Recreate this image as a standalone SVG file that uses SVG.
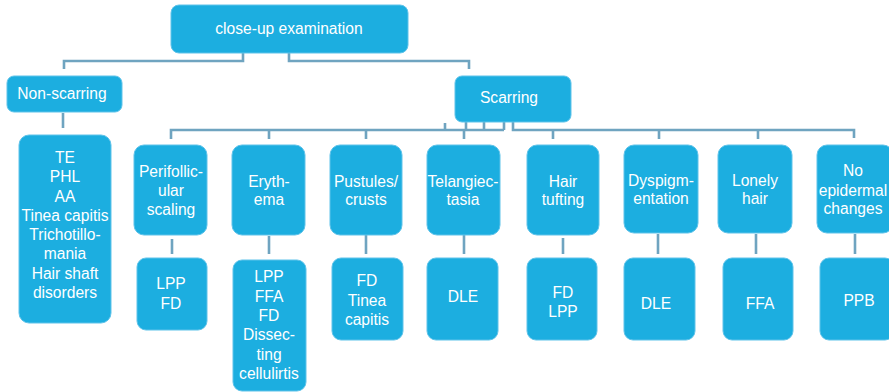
<svg xmlns="http://www.w3.org/2000/svg" width="889" height="392" viewBox="0 0 889 392">
<style>
.box{fill:#1caee0;stroke:#5fc3ea;stroke-width:1}
.t{font-family:"Liberation Sans",Arial,sans-serif;font-size:15.6px;fill:#ffffff;text-anchor:middle}
.c{fill:none;stroke:#6fa4c0;stroke-width:2.6}
</style>
<rect width="889" height="392" fill="#ffffff"/>
<g id="connectors">
<path class="c" d="M243,53 V61 H64 V69 M289,53 V61 H469 V69"/>
<path class="c" d="M63,113 V128"/>
<path class="c" d="M171,139 V130 H504 M269,130 V139 M366,130 V139 M464,130 V139 M445,123 V130 M466,122 V130 M484,122 V130 M504,122 V130"/>
<path class="c" d="M513,122 V130 H854 V138 M553,130 V139 M659,130 V139 M758,130 V139"/>
<path class="c" d="M172,239 V254 M269,236 V254 M366,235 V254 M464,234 V254 M563,238 V254 M658,234 V254 M756,234 V254 M855,234 V254"/>
</g>
<g id="n-root"><rect class="box" x="171" y="5" width="237" height="48" rx="8"/><text class="t" x="289" y="34">close-up examination</text></g>
<g id="n-nonscarring"><rect class="box" x="7" y="76" width="115" height="36" rx="7"/><text class="t" x="62" y="99">Non-scarring</text></g>
<g id="n-scarring"><rect class="box" x="455" y="76" width="116" height="46" rx="7"/><text class="t" x="509" y="103">Scarring</text></g>
<g id="n-ns-list"><rect class="box" x="19" y="135" width="92" height="188" rx="10"/>
<text class="t"><tspan x="65" y="162.5">TE</tspan><tspan x="65" y="182">PHL</tspan><tspan x="65" y="201.5">AA</tspan><tspan x="65" y="221">Tinea capitis</tspan><tspan x="65" y="240">Trichotillo-</tspan><tspan x="65" y="259">mania</tspan><tspan x="65" y="278.5">Hair shaft</tspan><tspan x="65" y="297.5">disorders</tspan></text></g>
<g id="n-perifollicular"><rect class="box" x="134" y="145" width="73" height="90" rx="10"/>
<text class="t"><tspan x="171" y="176.5">Perifollic-</tspan><tspan x="171" y="195.5">ular</tspan><tspan x="171" y="214.5">scaling</tspan></text></g>
<g id="n-erythema"><rect class="box" x="232" y="145" width="73" height="90" rx="10"/>
<text class="t"><tspan x="269" y="186.5">Eryth-</tspan><tspan x="269" y="205">ema</tspan></text></g>
<g id="n-pustules"><rect class="box" x="330" y="145" width="72" height="90" rx="10"/>
<text class="t"><tspan x="366" y="186.5">Pustules/</tspan><tspan x="366" y="205">crusts</tspan></text></g>
<g id="n-telangiectasia"><rect class="box" x="427" y="145" width="73" height="90" rx="10"/>
<text class="t"><tspan x="463" y="186.5">Telangiec-</tspan><tspan x="463" y="205">tasia</tspan></text></g>
<g id="n-hairtufting"><rect class="box" x="527" y="145" width="72" height="90" rx="10"/>
<text class="t"><tspan x="563" y="186.5">Hair</tspan><tspan x="563" y="205">tufting</tspan></text></g>
<g id="n-dyspigmentation"><rect class="box" x="624" y="145" width="74" height="88" rx="10"/>
<text class="t"><tspan x="661" y="185.5">Dyspigm-</tspan><tspan x="661" y="204">entation</tspan></text></g>
<g id="n-lonelyhair"><rect class="box" x="718" y="145" width="74" height="88" rx="10"/>
<text class="t"><tspan x="755" y="185.5">Lonely</tspan><tspan x="755" y="204">hair</tspan></text></g>
<g id="n-noepidermal"><rect class="box" x="817" y="145" width="76" height="88" rx="10"/>
<text class="t"><tspan x="853" y="175.5">No</tspan><tspan x="853" y="195.5">epidermal</tspan><tspan x="853" y="214">changes</tspan></text></g>
<g id="n-peri-dx"><rect class="box" x="137" y="258" width="70" height="72" rx="9"/>
<text class="t"><tspan x="171" y="289">LPP</tspan><tspan x="171" y="308.5">FD</tspan></text></g>
<g id="n-ery-dx"><rect class="box" x="233" y="260" width="73" height="131" rx="9"/>
<text class="t"><tspan x="269" y="282">LPP</tspan><tspan x="269" y="302">FFA</tspan><tspan x="269" y="321">FD</tspan><tspan x="269" y="340">Dissec-</tspan><tspan x="269" y="360">ting</tspan><tspan x="269" y="379">cellulirtis</tspan></text></g>
<g id="n-pus-dx"><rect class="box" x="332" y="258" width="71" height="82" rx="9"/>
<text class="t"><tspan x="367" y="286">FD</tspan><tspan x="367" y="305.5">Tinea</tspan><tspan x="367" y="324.5">capitis</tspan></text></g>
<g id="n-tel-dx"><rect class="box" x="427" y="258" width="71" height="82" rx="9"/><text class="t" x="463" y="302">DLE</text></g>
<g id="n-hair-dx"><rect class="box" x="527" y="258" width="70" height="82" rx="9"/>
<text class="t"><tspan x="563" y="298">FD</tspan><tspan x="563" y="317">LPP</tspan></text></g>
<g id="n-dys-dx"><rect class="box" x="624" y="258" width="71" height="82" rx="9"/><text class="t" x="656" y="309">DLE</text></g>
<g id="n-lonely-dx"><rect class="box" x="723" y="258" width="70" height="82" rx="9"/><text class="t" x="760" y="309">FFA</text></g>
<g id="n-noepi-dx"><rect class="box" x="820" y="258" width="74" height="82" rx="9"/><text class="t" x="859" y="305.5">PPB</text></g>
</svg>
